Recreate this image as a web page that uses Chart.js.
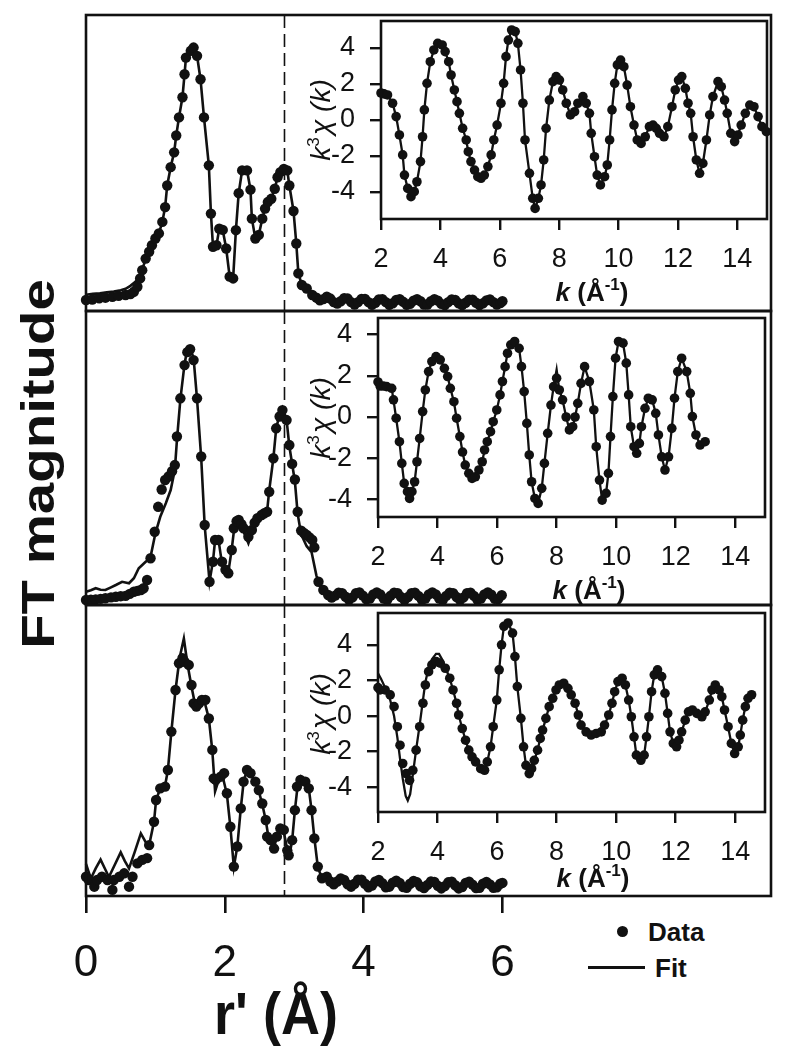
<!DOCTYPE html>
<html><head><meta charset="utf-8">
<script src="https://cdn.jsdelivr.net/npm/chart.js@4.4.1/dist/chart.umd.min.js"></script>
<style>
html,body{margin:0;padding:0;background:#fff}
body{position:relative;width:795px;height:1050px;overflow:hidden;font-family:"Liberation Sans",Arial,Helvetica,sans-serif;color:#111}
canvas{position:absolute}
.t{position:absolute;white-space:nowrap;line-height:1}
.kx{font-size:26px;font-weight:bold;transform:translate(-50%,-50%)}
.kx sup,.ky sup{font-size:17px;line-height:0;vertical-align:0.65em}
.ky{font-size:28px;font-style:italic;transform:translate(-50%,-50%) rotate(-90deg)}
</style></head><body>
<div class="t" style="left:37px;top:464px;font-size:47px;font-weight:bold;transform:translate(-50%,-50%) rotate(-90deg) scaleX(1.2)">FT magnitude</div>
<div class="t" style="left:276px;top:1013px;font-size:54px;font-weight:bold;transform:translate(-50%,-50%) scaleY(1.08)">r' (Å)</div>
<div class="t" style="left:617px;top:926px;width:11px;height:11px;border-radius:50%;background:#111"></div>
<div class="t" style="left:648px;top:932px;font-size:26px;font-weight:bold;transform:translateY(-50%)">Data</div>
<div class="t" style="left:588px;top:966px;width:57px;height:3px;background:#111"></div>
<div class="t" style="left:655px;top:968px;font-size:26px;font-weight:bold;transform:translateY(-50%)">Fit</div>
<script>
// ---------- tick labels ----------
const rTicks = [0, 2, 4, 6];
const kTicks = [2, 4, 6, 8, 10, 12, 14];
const chiTicks = [-4, -2, 0, 2, 4];
const dashR = 2.86;

// ---------- FT panel 1 ----------
const ft1R = [0.00,0.09,0.19,0.28,0.38,0.47,0.57,0.64,0.69,0.74,0.78,0.81,0.86,0.91,0.95,1.00,1.05,1.10,1.14,1.17,1.22,1.27,1.30,1.34,1.39,1.42,1.44,1.51,1.55,1.60,1.65,1.70,1.77,1.80,1.83,1.88,1.92,1.97,2.02,2.07,2.12,2.16,2.20,2.25,2.32,2.37,2.39,2.44,2.49,2.54,2.58,2.62,2.67,2.72,2.76,2.80,2.85,2.90,2.93,2.99,3.03,3.06,3.11,3.18,3.26,
 3.32,3.37,3.42,3.47,3.52,3.57,3.62,3.67,3.72,3.77,3.82,3.87,3.92,3.97,4.02,4.07,4.12,4.17,4.22,4.27,4.32,4.37,4.42,4.47,4.52,4.57,4.62,4.67,4.72,4.77,4.82,4.87,4.92,4.97,5.02,5.07,5.12,5.17,5.22,5.27,5.32,5.37,5.42,5.47,5.52,5.57,5.62,5.67,5.72,5.77,5.82,5.87,5.92,5.97,6.00];
const ft1Data = [0.37,0.39,0.43,0.45,0.48,0.51,0.54,0.57,0.65,0.82,1.10,1.38,1.77,2.00,2.22,2.45,2.62,3.01,3.51,4.24,4.86,5.36,5.93,6.54,7.22,8.00,8.56,8.79,8.90,8.62,7.83,6.54,4.92,3.29,2.17,2.22,2.78,2.74,2.11,1.16,1.10,2.73,3.98,4.75,4.75,4.10,3.12,2.45,2.57,3.12,3.46,3.68,3.79,4.13,4.52,4.69,4.80,4.75,4.24,3.38,2.28,1.27,0.88,0.76,0.54,
 0.45,0.36,0.40,0.48,0.42,0.30,0.25,0.33,0.43,0.42,0.30,0.22,0.30,0.41,0.41,0.30,0.21,0.28,0.39,0.40,0.30,0.21,0.26,0.37,0.40,0.31,0.21,0.24,0.35,0.40,0.33,0.22,0.22,0.33,0.40,0.35,0.24,0.20,0.30,0.39,0.37,0.26,0.20,0.28,0.38,0.38,0.28,0.20,0.26,0.36,0.39,0.30,0.22,0.27,0.33];
const ft1FitR = [0.00,0.10,0.20,0.30,0.40,0.50,0.57,0.64,0.69,0.74,0.78,0.81,0.86,0.91,0.95,1.00,1.05,1.10,1.14,1.17,1.22,1.27,1.30,1.34,1.39,1.42,1.44,1.51,1.55,1.60,1.65,1.70,1.77,1.80,1.83,1.88,1.92,1.97,2.02,2.07,2.12,2.16,2.20,2.25,2.32,2.37,2.39,2.44,2.49,2.54,2.58,2.62,2.67,2.72,2.76,2.80,2.85,2.90,2.93,2.99,3.03,3.06,3.11,3.18,3.26,
 3.35,3.47,3.60,3.72,3.86,3.99,4.12,4.25,4.38,4.51,4.63,4.76,4.89,5.02,5.15,5.28,5.41,5.54,5.67,5.80,5.93,6.00];
const ft1Fit = [0.55,0.58,0.60,0.63,0.66,0.70,0.75,0.85,0.95,1.05,1.20,1.38,1.77,2.00,2.22,2.45,2.62,3.01,3.51,4.24,4.86,5.36,5.93,6.54,7.22,8.00,8.56,8.79,8.90,8.62,7.83,6.54,4.92,3.29,2.17,2.22,2.78,2.74,2.11,1.16,1.10,2.73,3.98,4.75,4.75,4.10,3.12,2.45,2.57,3.12,3.46,3.68,3.79,4.13,4.52,4.69,4.80,4.75,4.24,3.38,2.28,1.27,0.88,0.76,0.54,
 0.40,0.47,0.26,0.43,0.23,0.41,0.21,0.40,0.21,0.40,0.21,0.40,0.21,0.40,0.20,0.39,0.20,0.38,0.20,0.39,0.22,0.33];

// ---------- FT panel 2 ----------
const ft2R = [0.00,0.07,0.14,0.21,0.28,0.36,0.43,0.50,0.57,0.63,0.69,0.74,0.79,0.83,0.88,0.93,0.99,1.04,1.09,1.14,1.19,1.24,1.28,1.31,1.36,1.42,1.46,1.50,1.55,1.60,1.66,1.71,1.78,1.83,1.86,1.91,1.96,2.01,2.05,2.10,2.13,2.17,2.20,2.24,2.27,2.34,2.39,2.43,2.47,2.53,2.57,2.61,2.64,2.70,2.74,2.79,2.83,2.89,2.93,2.97,3.01,3.05,3.10,3.14,3.18,3.22,3.26,3.29,3.35,3.42,3.49,
 3.54,3.59,3.64,3.69,3.74,3.79,3.84,3.89,3.94,3.99,4.04,4.09,4.14,4.19,4.24,4.29,4.34,4.39,4.44,4.49,4.54,4.59,4.64,4.69,4.74,4.79,4.84,4.89,4.94,4.99,5.04,5.09,5.14,5.19,5.24,5.29,5.34,5.39,5.44,5.49,5.54,5.59,5.64,5.69,5.74,5.79,5.84,5.89,5.94,5.99];
const ft2Data = [0.17,0.18,0.19,0.21,0.23,0.26,0.28,0.30,0.31,0.38,0.45,0.48,0.51,0.57,0.85,1.59,2.49,3.34,3.93,4.25,4.37,4.55,4.76,5.73,7.03,8.16,8.60,8.70,8.33,7.03,5.05,2.72,0.79,1.47,2.21,2.21,1.47,1.20,1.08,1.87,2.61,2.85,2.89,2.75,2.61,2.32,2.55,2.80,2.95,3.06,3.12,3.17,3.85,4.99,6.01,6.41,6.63,6.29,5.44,4.80,4.27,3.17,2.53,2.45,2.38,2.30,2.21,1.96,0.79,0.51,0.34,
 0.25,0.32,0.42,0.40,0.28,0.18,0.26,0.40,0.43,0.32,0.19,0.22,0.36,0.43,0.36,0.22,0.18,0.32,0.42,0.40,0.27,0.17,0.27,0.40,0.42,0.31,0.18,0.22,0.36,0.43,0.36,0.22,0.17,0.31,0.42,0.40,0.27,0.17,0.26,0.40,0.42,0.31,0.18,0.22,0.36,0.43,0.35,0.21,0.20,0.33];
const ft2FitR = [0.00,0.07,0.14,0.21,0.28,0.36,0.43,0.52,0.62,0.69,0.76,0.86,0.93,1.00,1.07,1.15,1.22,1.28,1.31,1.36,1.42,1.46,1.50,1.55,1.60,1.66,1.71,1.78,1.83,1.86,1.91,1.96,2.05,2.10,2.13,2.20,2.27,2.34,2.39,2.47,2.53,2.61,2.64,2.70,2.74,2.79,2.83,2.89,2.93,3.01,3.05,3.10,3.18,3.25,3.32,3.40,3.45,
 3.56,3.66,3.79,3.92,4.05,4.18,4.32,4.45,4.58,4.72,4.85,4.98,5.13,5.26,5.39,5.53,5.65,5.78,5.92,5.99];
const ft2Fit = [0.45,0.50,0.57,0.52,0.51,0.60,0.68,0.79,0.74,0.91,1.25,1.47,1.64,2.44,3.00,3.46,3.91,4.60,5.60,7.00,8.20,8.70,8.75,8.40,7.00,5.00,2.70,0.80,1.50,2.20,2.20,1.40,1.10,1.90,2.50,2.85,2.50,2.10,2.45,2.90,3.05,3.20,3.90,5.00,6.00,6.50,6.70,6.30,5.40,4.20,3.10,2.40,2.00,1.80,1.00,0.50,0.35,
 0.26,0.42,0.18,0.43,0.19,0.43,0.18,0.42,0.17,0.42,0.18,0.43,0.17,0.42,0.17,0.42,0.18,0.43,0.20,0.33];

// ---------- FT panel 3 ----------
const ft3R = [0.00,0.04,0.12,0.16,0.23,0.31,0.38,0.40,0.48,0.55,0.62,0.67,0.74,0.81,0.88,0.91,0.98,1.01,1.07,1.14,1.18,1.23,1.29,1.34,1.39,1.42,1.48,1.52,1.55,1.59,1.63,1.67,1.72,1.77,1.82,1.84,1.87,1.94,1.99,2.03,2.08,2.13,2.18,2.23,2.27,2.32,2.37,2.44,2.49,2.54,2.59,2.61,2.66,2.71,2.75,2.80,2.85,2.90,2.92,2.97,3.01,3.04,3.09,3.16,3.21,3.25,3.29,3.34,3.40,3.47,
 3.52,3.57,3.62,3.67,3.72,3.77,3.82,3.87,3.92,3.97,4.02,4.07,4.12,4.17,4.22,4.27,4.32,4.37,4.42,4.47,4.52,4.57,4.62,4.67,4.72,4.77,4.82,4.87,4.92,4.97,5.02,5.07,5.12,5.17,5.22,5.27,5.32,5.37,5.42,5.47,5.52,5.57,5.62,5.67,5.72,5.77,5.82,5.87,5.92,5.97,6.00];
const ft3Data = [0.66,0.55,0.32,0.55,0.66,0.55,0.21,0.55,0.66,0.78,0.32,0.66,1.12,1.24,1.30,1.75,2.55,3.30,3.70,3.76,4.33,5.65,7.08,8.00,8.17,8.05,7.94,7.25,6.62,6.51,6.62,6.74,6.74,6.10,5.02,4.04,3.99,4.10,4.22,3.53,2.38,1.01,1.70,3.01,3.93,4.33,4.22,3.93,3.64,3.18,2.61,2.04,1.92,1.63,2.04,2.32,2.27,1.57,1.40,1.92,2.95,3.76,3.99,3.93,3.70,2.95,1.98,1.01,0.61,0.66,
 0.50,0.40,0.50,0.60,0.55,0.40,0.32,0.42,0.56,0.56,0.42,0.30,0.36,0.50,0.55,0.44,0.30,0.32,0.46,0.53,0.45,0.31,0.28,0.42,0.52,0.47,0.33,0.27,0.38,0.50,0.48,0.35,0.26,0.34,0.47,0.49,0.37,0.26,0.31,0.45,0.49,0.39,0.27,0.28,0.42,0.48,0.40,0.28,0.30,0.42,0.45];
const ft3FitR = [0.00,0.07,0.14,0.21,0.28,0.33,0.42,0.50,0.56,0.62,0.70,0.79,0.86,0.91,0.98,1.01,1.07,1.14,1.18,1.23,1.29,1.35,1.41,1.46,1.52,1.57,1.63,1.70,1.77,1.82,1.86,1.90,1.96,2.03,2.08,2.13,2.18,2.23,2.27,2.32,2.37,2.44,2.49,2.54,2.59,2.63,2.71,2.75,2.80,2.85,2.90,2.93,2.97,3.01,3.05,3.10,3.16,3.21,3.25,3.29,3.34,3.40,3.47,
 3.57,3.68,3.82,3.95,4.08,4.21,4.33,4.47,4.60,4.72,4.86,4.99,5.12,5.25,5.38,5.51,5.64,5.77,5.88,6.00];
const ft3Fit = [1.10,0.60,0.95,1.25,0.90,0.65,1.10,1.50,1.20,0.95,1.50,2.15,1.85,1.75,2.55,3.30,3.70,3.80,4.33,5.65,7.08,8.20,8.85,8.00,7.20,6.60,6.65,6.75,6.10,5.00,3.60,3.90,4.20,3.50,2.38,1.00,1.70,3.00,3.90,4.35,4.20,3.90,3.60,3.15,2.60,2.00,1.70,2.00,2.30,2.20,1.60,1.40,1.90,2.95,3.80,4.10,3.95,3.70,2.95,2.00,1.00,0.60,0.55,
 0.40,0.60,0.32,0.57,0.30,0.55,0.30,0.53,0.28,0.52,0.27,0.50,0.26,0.49,0.26,0.49,0.27,0.48,0.28,0.45];

// ---------- inset 1 : k^3 chi(k) ----------
const k1 = [2.0,2.1,2.22,2.39,2.51,2.62,2.73,2.79,2.9,3.01,3.12,3.21,3.33,3.40,3.46,3.55,3.66,3.78,3.91,4.06,4.16,4.28,4.36,4.47,4.56,4.64,4.75,4.87,4.94,5.03,5.15,5.26,5.37,5.48,5.6,5.71,5.8,5.91,6.04,6.13,6.21,6.29,6.4,6.52,6.61,6.7,6.78,6.85,7.0,7.11,7.19,7.3,7.39,7.48,7.56,7.67,7.79,7.9,8.01,8.12,8.24,8.38,8.52,8.63,8.8,8.91,9.02,9.08,9.19,9.28,9.39,9.53,9.62,9.7,9.78,9.87,9.96,10.07,10.18,10.29,10.4,10.52,10.63,10.76,10.9,11.04,11.16,11.27,11.38,11.53,11.66,11.8,11.91,12.02,12.13,12.25,12.34,12.43,12.51,12.62,12.73,12.84,12.96,13.07,13.18,13.35,13.46,13.57,13.66,13.78,13.91,14.02,14.13,14.27,14.42,14.56,14.7,14.83,14.98];
const chi1 = [1.5,1.45,1.39,0.93,0.19,-0.83,-1.94,-3.06,-3.8,-4.26,-3.98,-3.43,-2.31,-0.93,0.56,2.04,3.24,3.89,4.26,4.17,3.8,3.24,2.5,1.67,1.02,0.37,-0.46,-1.11,-1.76,-2.31,-2.78,-3.15,-3.24,-3.06,-2.59,-1.94,-1.11,-0.28,0.93,2.04,3.52,4.44,5.0,4.91,4.26,2.78,0.93,-1.11,-2.96,-4.35,-4.91,-4.35,-3.61,-2.22,-0.46,1.11,2.13,2.41,2.22,1.67,0.93,0.28,0.46,0.93,1.3,0.93,0.37,-0.74,-2.04,-3.06,-3.61,-3.15,-2.5,-1.11,0.56,2.04,3.06,3.33,2.96,1.94,0.74,-0.28,-1.11,-1.3,-0.93,-0.37,-0.28,-0.46,-0.74,-0.93,-0.37,0.74,1.67,2.22,2.41,1.76,0.93,0.37,-0.93,-2.22,-2.96,-2.41,-1.11,0.28,1.3,2.13,1.85,1.11,0.37,-0.74,-1.2,-0.83,-0.28,0.37,0.83,0.74,0.19,-0.37,-0.65];
const chi1Fit = [1.5,1.45,1.39,0.93,0.19,-0.83,-1.94,-3.06,-3.8,-4.26,-3.98,-3.43,-2.31,-0.93,0.56,2.04,3.24,3.89,4.26,4.17,3.8,3.24,2.5,1.67,1.02,0.37,-0.46,-1.11,-1.76,-2.31,-2.78,-3.15,-3.24,-3.06,-2.59,-1.94,-1.11,-0.28,0.93,2.04,3.52,4.44,5.0,4.91,4.26,2.78,0.93,-1.11,-2.96,-4.35,-4.91,-4.35,-3.61,-2.22,-0.46,1.11,2.13,2.41,2.22,1.67,0.93,0.28,0.46,0.93,1.3,0.93,0.37,-0.74,-2.04,-3.06,-3.61,-3.15,-2.5,-1.11,0.56,2.04,3.06,3.33,2.96,1.94,0.74,-0.28,-1.11,-1.3,-0.93,-0.37,-0.28,-0.46,-0.74,-0.93,-0.37,0.74,1.67,2.22,2.41,1.76,0.93,0.37,-0.93,-2.22,-2.96,-2.41,-1.11,0.28,1.3,2.13,1.85,1.11,0.37,-0.74,-1.2,-0.83,-0.28,0.37,0.83,0.74,0.19,-0.37,-0.65];

// ---------- inset 2 ----------
const k2 = [2.0,2.07,2.18,2.29,2.46,2.52,2.61,2.72,2.8,2.88,2.99,3.06,3.14,3.23,3.31,3.4,3.5,3.59,3.7,3.81,3.95,4.09,4.23,4.34,4.43,4.55,4.64,4.75,4.84,4.93,5.05,5.16,5.27,5.39,5.5,5.58,5.67,5.78,5.87,5.99,6.1,6.18,6.27,6.35,6.46,6.59,6.74,6.82,6.91,7.0,7.08,7.16,7.27,7.38,7.5,7.59,7.7,7.81,7.9,8.0,8.09,8.2,8.32,8.43,8.54,8.62,8.71,8.82,8.94,9.1,9.25,9.33,9.44,9.53,9.66,9.74,9.81,9.89,9.98,10.08,10.23,10.34,10.42,10.49,10.6,10.69,10.78,10.85,10.97,11.08,11.21,11.33,11.42,11.53,11.64,11.76,11.87,11.96,12.07,12.2,12.37,12.49,12.56,12.68,12.82,12.99];
const chi2 = [1.7,1.5,1.5,1.47,1.39,0.83,-0.06,-1.2,-2.25,-3.22,-3.62,-3.95,-3.62,-3.14,-2.17,-1.04,0.26,1.31,2.2,2.69,2.93,2.77,2.36,1.96,1.39,0.74,-0.06,-0.95,-1.7,-2.33,-2.73,-2.98,-2.9,-2.57,-2.17,-1.6,-1.2,-0.71,-0.23,0.34,1.07,1.72,2.44,3.09,3.5,3.66,3.33,2.44,1.23,-0.31,-1.84,-3.14,-3.95,-4.19,-3.46,-2.25,-0.79,0.58,1.47,1.88,1.31,0.83,0.0,-0.63,-0.47,0.0,0.66,1.63,2.44,1.72,0.34,-1.44,-3.06,-4.03,-3.7,-2.73,-0.95,0.99,2.85,3.66,3.58,2.61,1.07,-0.47,-1.44,-1.76,-1.28,-0.47,0.42,0.91,0.83,0.18,-0.87,-1.93,-2.57,-1.93,-0.55,0.91,2.2,2.85,2.2,1.15,0.02,-0.87,-1.36,-1.2];
const chi2Fit = [1.7,1.5,1.5,1.47,1.39,0.83,-0.06,-1.2,-2.25,-3.22,-3.62,-3.95,-3.62,-3.14,-2.17,-1.04,0.26,1.31,2.2,2.69,2.93,2.77,2.36,1.96,1.39,0.74,-0.06,-0.95,-1.7,-2.33,-2.73,-2.98,-2.9,-2.57,-2.17,-1.6,-1.2,-0.71,-0.23,0.34,1.07,1.72,2.44,3.09,3.5,3.66,3.33,2.44,1.23,-0.31,-1.84,-3.14,-3.95,-4.19,-3.46,-2.25,-0.79,0.58,1.47,2.3,1.31,0.83,0.0,-0.63,-0.47,0.0,0.66,1.63,2.44,1.72,0.34,-1.44,-3.06,-4.03,-3.7,-2.73,-0.95,0.99,2.85,3.66,3.58,2.61,1.07,-0.47,-1.44,-1.76,-1.28,-0.47,0.42,0.91,0.83,0.18,-0.87,-1.93,-2.57,-1.93,-0.55,0.91,2.2,2.85,2.2,1.15,0.02,-0.87,-1.36,-1.2];

// ---------- inset 3 ----------
const k3 = [2.0,2.07,2.24,2.41,2.54,2.65,2.74,2.83,2.95,3.06,3.17,3.28,3.4,3.51,3.59,3.7,3.81,3.95,4.09,4.26,4.41,4.52,4.64,4.71,4.83,4.94,5.05,5.16,5.28,5.45,5.58,5.67,5.78,5.87,5.99,6.07,6.15,6.23,6.37,6.52,6.6,6.68,6.8,6.89,6.97,7.08,7.16,7.25,7.36,7.45,7.53,7.64,7.75,7.87,7.98,8.09,8.24,8.38,8.49,8.62,8.73,8.82,8.99,9.16,9.33,9.5,9.61,9.75,9.86,9.95,10.06,10.2,10.31,10.42,10.51,10.6,10.68,10.83,10.94,11.02,11.1,11.19,11.28,11.39,11.53,11.64,11.73,11.81,11.92,12.03,12.11,12.2,12.32,12.43,12.56,12.71,12.88,12.99,13.13,13.22,13.33,13.46,13.55,13.64,13.76,13.87,13.98,14.1,14.17,14.25,14.34,14.43,14.55];
const chi3 = [1.6,1.47,1.47,1.19,0.53,-0.6,-1.64,-2.67,-3.24,-3.62,-3.05,-1.92,-0.6,0.72,1.75,2.5,2.88,3.07,2.98,2.69,2.13,1.47,0.72,0.06,-0.7,-1.36,-1.92,-2.3,-2.58,-2.96,-3.05,-2.58,-1.73,-0.6,0.9,2.6,4.01,5.05,5.24,4.67,3.35,1.66,-0.13,-1.73,-2.77,-3.24,-2.96,-2.49,-1.92,-1.26,-0.79,-0.13,0.53,1.0,1.47,1.75,1.85,1.56,1.19,0.72,0.06,-0.51,-0.89,-1.07,-0.98,-0.89,-0.51,0.06,0.72,1.37,1.94,2.13,1.75,0.9,-0.04,-1.17,-2.2,-2.49,-2.2,-1.17,-0.04,1.37,2.32,2.6,2.22,1.28,0.15,-0.89,-1.54,-1.73,-1.36,-0.89,-0.23,0.24,0.34,0.15,-0.04,0.24,0.9,1.47,1.75,1.47,1.09,0.34,-0.6,-1.54,-2.11,-1.73,-1.07,-0.23,0.53,1.0,1.2];
const k3Fit = [2.0,2.1,2.24,2.41,2.54,2.65,2.74,2.83,2.93,3.0,3.08,3.17,3.28,3.4,3.51,3.59,3.7,3.81,3.95,4.05,4.15,4.26,4.41,4.52,4.64,4.71,4.83,4.94,5.05,5.16,5.28,5.45,5.58,5.67,5.78,5.87,5.99,6.07,6.15,6.23,6.37,6.52,6.6,6.68,6.8,6.89,6.97,7.08,7.16,7.25,7.36,7.45,7.53,7.64,7.75,7.87,7.98,8.09,8.24,8.38,8.49,8.62,8.73,8.82,8.99,9.16,9.33,9.5,9.61,9.75,9.86,9.95,10.06,10.2,10.31,10.42,10.51,10.6,10.68,10.83,10.94,11.02,11.1,11.19,11.28,11.39,11.53,11.64,11.73,11.81,11.92,12.03,12.11,12.2,12.32,12.43,12.56,12.71,12.88,12.99,13.13,13.22,13.33,13.46,13.55,13.64,13.76,13.87,13.98,14.1,14.17,14.25,14.34,14.43,14.55];
const chi3Fit = [2.4,2.1,1.6,0.9,0.0,-1.2,-2.4,-3.5,-4.5,-4.75,-4.4,-3.3,-1.9,-0.5,0.9,1.9,2.7,3.2,3.5,3.5,3.2,2.75,2.13,1.47,0.72,0.06,-0.7,-1.36,-1.92,-2.3,-2.58,-2.96,-3.05,-2.58,-1.73,-0.6,0.9,2.6,4.01,5.05,5.24,4.67,3.35,1.66,-0.13,-1.73,-2.77,-3.24,-2.96,-2.49,-1.92,-1.26,-0.79,-0.13,0.53,1.0,1.47,1.75,1.85,1.56,1.19,0.72,0.06,-0.51,-0.89,-1.07,-0.98,-0.89,-0.51,0.06,0.72,1.37,1.94,2.13,1.75,0.9,-0.04,-1.17,-2.2,-2.49,-2.2,-1.17,-0.04,1.37,2.32,2.6,2.22,1.28,0.15,-0.89,-1.54,-1.73,-1.36,-0.89,-0.23,0.24,0.34,0.15,-0.04,0.24,0.9,1.47,1.75,1.47,1.09,0.34,-0.6,-1.54,-2.11,-1.73,-1.07,-0.23,0.53,1.0,1.2];

// ---------- drawing ----------
Chart.defaults.font.family = '"Liberation Sans", Arial, sans-serif';
Chart.defaults.color = '#111';
const INK = '#111';

function pts(xs, ys) {
  const n = Math.min(xs.length, ys.length);
  const out = [];
  for (let i = 0; i < n; i++) out.push({x: xs[i], y: ys[i]});
  return out;
}
function makeCanvas(left, top, w, h) {
  const c = document.createElement('canvas');
  c.width = w; c.height = h;
  c.style.left = left + 'px'; c.style.top = top + 'px';
  c.style.width = w + 'px'; c.style.height = h + 'px';
  document.body.appendChild(c);
  return c;
}
function addText(html, cls, left, top) {
  const d = document.createElement('div');
  d.className = 't ' + cls;
  d.style.left = left + 'px'; d.style.top = top + 'px';
  d.innerHTML = html;
  document.body.appendChild(d);
}
const framePlugin = {
  id: 'frame',
  afterDraw(c) {
    const ctx = c.ctx, a = c.chartArea;
    ctx.save(); ctx.strokeStyle = INK; ctx.lineWidth = 2.6;
    ctx.strokeRect(a.left, a.top, a.right - a.left, a.bottom - a.top);
    ctx.restore();
  }
};
const dashPlugin = {
  id: 'dash',
  beforeDatasetsDraw(c) {
    const ctx = c.ctx, a = c.chartArea, x = c.scales.x.getPixelForValue(dashR);
    ctx.save(); ctx.strokeStyle = INK; ctx.lineWidth = 1.6; ctx.setLineDash([13, 6]);
    ctx.beginPath(); ctx.moveTo(x, a.top); ctx.lineTo(x, a.bottom); ctx.stroke();
    ctx.restore();
  }
};
function zeroPad(s) { s.paddingLeft = 0; s.paddingRight = 0; s.paddingTop = 0; s.paddingBottom = 0; }

const FT_LEFT = 86, FT_W = 685, PAD = 14;
function ftChart(top, bottom, dR, dV, fR, fV, showAxis) {
  const axisH = showAxis ? 100 : 0;
  const h = bottom - top;
  const H = PAD + h + (showAxis ? axisH : PAD);
  const cv = makeCanvas(FT_LEFT - PAD, top - PAD, FT_W + 2 * PAD, H);
  new Chart(cv, {
    type: 'scatter',
    data: { datasets: [
      { data: pts(dR, dV), showLine: false, pointRadius: 5.2, pointBackgroundColor: INK, pointBorderWidth: 0, pointBorderColor: INK, clip: false },
      { data: pts(fR, fV), showLine: true, borderColor: INK, borderWidth: 2.6, pointRadius: 0, tension: 0, clip: false }
    ]},
    options: {
      responsive: false, animation: false, devicePixelRatio: 1, events: [],
      layout: { padding: { left: PAD, right: PAD, top: PAD, bottom: showAxis ? 0 : PAD } },
      plugins: { legend: { display: false }, tooltip: { enabled: false } },
      scales: {
        x: { type: 'linear', min: 0, max: 9.87, display: showAxis, position: 'bottom',
          afterBuildTicks: s => { s.ticks = rTicks.map(v => ({ value: v })); },
          afterFit: s => { s.height = axisH; zeroPad(s); },
          grid: { drawOnChartArea: false, tickLength: 17, lineWidth: 2.6, color: INK },
          border: { display: false },
          ticks: { font: { size: 44 }, color: INK, padding: 24, maxRotation: 0, autoSkip: false } },
        y: { type: 'linear', min: 0, max: 10, display: false }
      }
    },
    plugins: [dashPlugin, framePlugin]
  });
}

function insetChart(box, ymin, ymax, kD, cD, kF, cF) {
  const yW = 70, xH = 64, pt = 6, pr = 6;
  const w = box.r - box.l, h = box.b - box.t;
  const cv = makeCanvas(box.l - yW, box.t - pt, yW + w + pr, pt + h + xH);
  new Chart(cv, {
    type: 'scatter',
    data: { datasets: [
      { data: pts(kD, cD), showLine: false, pointRadius: 4.8, pointBackgroundColor: INK, pointBorderWidth: 0, clip: false },
      { data: pts(kF, cF), showLine: true, borderColor: INK, borderWidth: 2.3, pointRadius: 0, tension: 0, clip: false }
    ]},
    options: {
      responsive: false, animation: false, devicePixelRatio: 1, events: [],
      layout: { padding: { left: 0, right: pr, top: pt, bottom: 0 } },
      plugins: { legend: { display: false }, tooltip: { enabled: false } },
      scales: {
        x: { type: 'linear', min: 2, max: 15, position: 'bottom',
          afterBuildTicks: s => { s.ticks = kTicks.map(v => ({ value: v })); },
          afterFit: s => { s.height = xH; zeroPad(s); },
          grid: { drawOnChartArea: false, tickLength: 11, lineWidth: 2.4, color: INK },
          border: { display: false },
          ticks: { font: { size: 27 }, color: INK, padding: 13, maxRotation: 0, autoSkip: false } },
        y: { type: 'linear', min: ymin, max: ymax, position: 'left',
          afterBuildTicks: s => { s.ticks = chiTicks.map(v => ({ value: v })); },
          afterFit: s => { s.width = yW; zeroPad(s); },
          grid: { drawOnChartArea: false, tickLength: 11, lineWidth: 2.4, color: INK },
          border: { display: false },
          ticks: { font: { size: 27 }, color: INK, padding: 15, autoSkip: false } }
      }
    },
    plugins: [framePlugin]
  });
}

ftChart(15, 311, ft1R, ft1Data, ft1FitR, ft1Fit, false);
ftChart(311, 605, ft2R, ft2Data, ft2FitR, ft2Fit, false);
ftChart(605, 896, ft3R, ft3Data, ft3FitR, ft3Fit, true);

insetChart({l: 381, r: 767, t: 21, b: 219}, -5.5, 5.5, k1, chi1, k1, chi1Fit);
insetChart({l: 378, r: 765, t: 318, b: 517}, -4.85, 4.8, k2, chi2, k2, chi2Fit);
insetChart({l: 378, r: 765, t: 613, b: 812}, -5.4, 5.8, k3, chi3, k3Fit, chi3Fit);

// inset axis titles (drawn above the canvases)
const kTitle = '<i>k</i> (Å<sup>-1</sup>)';
const chiTitle = 'k<sup style="font-style:normal">3</sup>&#8202;χ (k)';
addText(kTitle, 'kx', 592, 292); addText(kTitle, 'kx', 589, 590); addText(kTitle, 'kx', 593, 878);
addText(chiTitle, 'ky', 321, 120); addText(chiTitle, 'ky', 321, 418); addText(chiTitle, 'ky', 321, 714);
</script>
</body></html>
